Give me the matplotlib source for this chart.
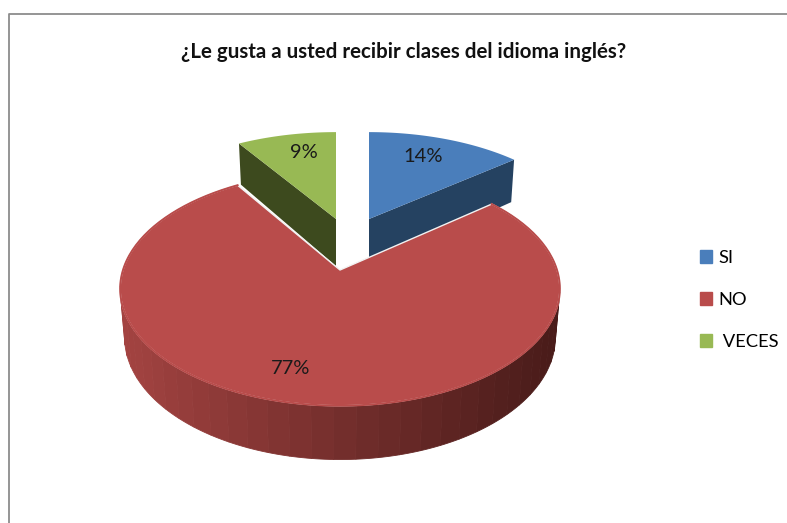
import numpy as np
import matplotlib
matplotlib.use('Agg')
import matplotlib.pyplot as plt
from matplotlib.patches import Patch

plt.rcParams['font.family'] = ['Lato', 'DejaVu Sans']

title = '¿Le gusta a usted recibir clases del idioma inglés?'
categories = ['SI', 'NO', ' VECES']
values = [14, 77, 9]

top_colors = ['#4A7EBB', '#B94C4B', '#98B954']
side_colors = ['#254261', '#7A3230', '#3D4A1E']
# where each slice's point sits in the picture (exploded slices)
apex = [(369, 219), (340, 270), (336, 219)]
label_pos = [(423, 157), (291, 368), (303.5, 152)]

# perspective of the pie plane: A, B, K, depth
# the exploded slices sit further back, so they get a stronger squeeze
PERSP_BACK = (214.7, 106.0, 0.22, 47.0)
PERSP_MAIN = (217.0, 114.0, 0.16, 47.5)
BOTTOM_SCALE = 0.98


def project(t, x0, y0, persp, lower=False):
    # t is clockwise from 12 o'clock, in radians
    a, b, k, depth = persp
    u = np.sin(t)
    v = np.cos(t)
    w = 1 + k * v
    if lower:
        return x0 + BOTTOM_SCALE * a * u / w, y0 - BOTTOM_SCALE * b * v / w + depth / w
    return x0 + a * u / w, y0 - b * v / w


def slice_angles():
    fracs = np.array(values) / sum(values)
    ends = np.cumsum(fracs) * 2 * np.pi
    starts = np.concatenate(([0], ends[:-1]))
    return starts, ends


def draw_cut_face(ax, t, x0, y0, persp, color):
    x1, y1 = project(t, x0, y0, persp)
    x2, y2 = project(t, x0, y0, persp, lower=True)
    ax.fill([x0, x1, x2, x0], [y0, y1, y2, y0 + persp[3]], color=color, lw=0)


def draw_rim(ax, t0, t1, x0, y0, persp):
    # shaded outer wall, light on the left and dark on the right, in coarse bands
    steps = np.linspace(t0, t1, 56)
    light = np.array(matplotlib.colors.to_rgb('#A34341'))
    dark = np.array(matplotlib.colors.to_rgb('#4A1C1A'))
    for a, b in zip(steps[:-1], steps[1:]):
        fine = np.linspace(a, b, 6)
        xt, yt = project(fine, x0, y0, persp)
        xl, yl = project(fine[::-1], x0, y0, persp, lower=True)
        mix = np.clip((xt[0] - 125) / 430, 0, 1)
        col = light * (1 - mix) + dark * mix
        ax.fill(np.r_[xt, xl], np.r_[yt, yl], color=col, lw=0.6, ec=col)


def draw_top(ax, t0, t1, x0, y0, persp, color, edge='none'):
    steps = np.linspace(t0, t1, 200)
    xs, ys = project(steps, x0, y0, persp)
    ax.fill(np.r_[x0, xs], np.r_[y0, ys], fc=color, ec=edge, lw=1.0, joinstyle='round')


def main():
    fig = plt.figure(figsize=(7.87, 5.23), dpi=100)
    ax = fig.add_axes([0, 0, 1, 1])
    ax.set_xlim(0, 787)
    ax.set_ylim(523, 0)
    ax.axis('off')

    # chart frame, only left and top edges are in the crop
    ax.plot([9, 9, 787], [523, 14, 14], color='#8C8C8C', lw=1.3)

    starts, ends = slice_angles()

    draw_cut_face(ax, starts[2], apex[2][0], apex[2][1], PERSP_BACK, side_colors[2])
    draw_top(ax, starts[2], ends[2], apex[2][0], apex[2][1], PERSP_BACK, top_colors[2])
    draw_cut_face(ax, ends[0], apex[0][0], apex[0][1], PERSP_BACK, side_colors[0])
    draw_top(ax, starts[0], ends[0], apex[0][0], apex[0][1], PERSP_BACK, top_colors[0])

    draw_rim(ax, starts[1], ends[1], apex[1][0], apex[1][1], PERSP_MAIN)
    draw_top(ax, starts[1], ends[1], apex[1][0], apex[1][1], PERSP_MAIN, top_colors[1],
             edge='#F2F2F2')
    # cover the white edge along the arc, keep it on the cut sides only
    steps = np.linspace(starts[1], ends[1], 200)
    xs, ys = project(steps, apex[1][0], apex[1][1], PERSP_MAIN)
    ax.plot(xs, ys, color=top_colors[1], lw=1.4)

    for i, val in enumerate(values):
        ax.text(label_pos[i][0], label_pos[i][1], '%d%%' % val, ha='center', va='center',
                fontsize=14.5, color='#1A1A1A')

    ax.text(403.5, 52, title, ha='center', va='center', fontsize=14.75, fontweight='bold',
            color='#111111')

    handles = [Patch(color=c) for c in top_colors]
    ax.legend(handles, categories, loc='center left', bbox_to_anchor=(693, 300),
              bbox_transform=ax.transData, frameon=False, fontsize=13.2,
              handlelength=0.65, handleheight=0.7, handletextpad=0.32,
              labelspacing=1.42, borderpad=0, borderaxespad=0.4)

    fig.savefig('out.png', dpi=100)


if __name__ == "__main__":
    main()
